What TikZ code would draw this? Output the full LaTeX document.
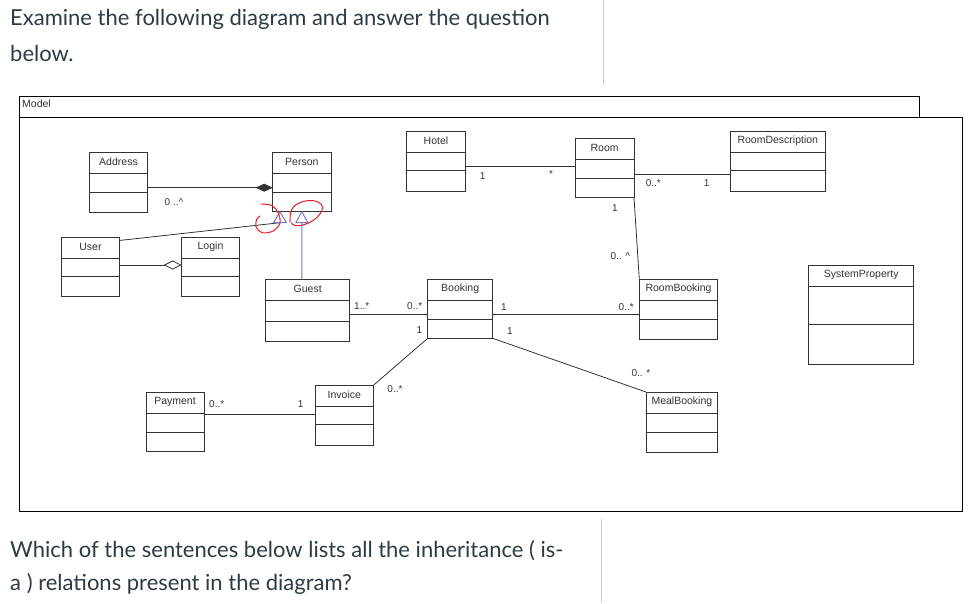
\documentclass[tikz,border=0pt]{standalone}
\usepackage{fontspec}
\setmainfont{Liberation Sans}
\newfontfamily\latofont{Lato}
\usetikzlibrary{arrows.meta}
\definecolor{qtext}{HTML}{2D3B45}
\definecolor{ink}{HTML}{333333}
\definecolor{inh}{RGB}{120,120,200}
\definecolor{sepgray}{HTML}{C7CDD1}
\definecolor{pen}{RGB}{230,30,40}
\newcommand\umlclass[8]{%
  \node[classbox, anchor=north west, minimum width={(#4-#2)*1pt}, minimum height={(#5-#3)*1pt}] (#1) at (#2,#3) {};
  \draw[divider] (#2,#6) -- (#4,#6) (#2,#7) -- (#4,#7);
  \node[cname] (#1-name) at ({(#2+#4)/2},{(#3+#6)/2-1}) {#8};
}
\begin{document}
\begin{tikzpicture}[x=1pt,y=-1pt,
  classbox/.style={draw=ink, line width=0.9pt, inner sep=0pt, outer sep=0pt, fill=white},
  divider/.style={draw=ink, line width=0.9pt},
  cname/.style={font=\fontsize{10.5}{12}\selectfont, text=ink, inner sep=0pt},
  mult/.style={font=\fontsize{10}{12}\selectfont, text=ink, inner sep=0pt},
  conn/.style={draw=ink, line width=0.8pt},
  inhline/.style={draw=inh, line width=1pt},
  redpen/.style={draw=pen, line width=1pt, line cap=round, line join=round},
  qline/.style={font=\latofont\fontsize{22}{26}\selectfont, text=qtext, anchor=west, inner sep=0pt},
  frameline/.style={draw=black, line width=0.9pt},
  sepline/.style={draw=sepgray, line width=0.8pt},
]
\useasboundingbox (0,0) rectangle (975,603);
\fill[white] (0,0) rectangle (975,603);

% question text
\node[qline] (q1) at (10,19) {Examine the following diagram and answer the question};
\node[qline] (q2) at (10,53) {below.};
\node[qline] (q3) at (10,551) {Which of the sentences below lists all the inheritance ( is-};
\node[qline] (q4) at (10,584) {a ) relations present in the diagram?};
\draw[sepline] (603,0) -- (603,85);
\draw[sepline] (601,519) -- (601,603);

% frame
\draw[frameline] (19,96) rectangle (919,117);
\draw[frameline] (19,117) rectangle (962,511);
\node[cname, anchor=west] (model) at (22,103.5) {Model};

% classes
\umlclass{Address}{89.3}{152.3}{147.7}{212.3}{173.3}{192.3}{Address}
\umlclass{Person}{272.7}{152.3}{331}{211.7}{173.3}{192.3}{Person}
\umlclass{User}{61.7}{237}{119.3}{296.7}{258.3}{276.7}{User}
\umlclass{Login}{181.7}{237}{239.3}{296.7}{258.3}{276.7}{Login}
\umlclass{Guest}{265.7}{279.3}{349.7}{341.7}{300.3}{321}{Guest}
\umlclass{Booking}{427.7}{279.3}{492.7}{338.3}{300.3}{319.3}{Booking}
\umlclass{Hotel}{406.7}{131.3}{465.3}{191}{152.3}{170.7}{Hotel}
\umlclass{Room}{575.3}{138.7}{634}{197.7}{159.7}{178.3}{Room}
\umlclass{RoomDescription}{730.3}{131.3}{825.3}{191}{152.3}{170.7}{RoomDescription}
\umlclass{RoomBooking}{639.3}{279.3}{717.7}{339.3}{300.7}{319.3}{RoomBooking}
\umlclass{SystemProperty}{808.7}{265.3}{913.7}{364}{286.7}{324.3}{SystemProperty}
\umlclass{MealBooking}{646}{392}{717.7}{452.3}{413.7}{432.3}{MealBooking}
\umlclass{Payment}{146}{392}{204}{451.7}{413.3}{432}{Payment}
\umlclass{Invoice}{315}{385}{373.7}{445}{406}{424.3}{Invoice}

% connector levels
\coordinate (yAP) at (0,187.7);
\coordinate (yUL) at (0,265);
\coordinate (yHR) at (0,166.7);
\coordinate (yRD) at (0,174);
\coordinate (yGB) at (0,314.3);
\coordinate (yPI) at (0,414);

% composition Address - Person
\draw[conn, -{Diamond[length=17pt,width=8pt]}] (Address.east |- yAP) -- (Person.west |- yAP);
\node[mult] (mAP) at (174,202) {0 ..\^{}};

% aggregation User - Login
\draw[conn, -{Diamond[open,length=18pt,width=9pt,fill=white]}] (User.east |- yUL) -- (Login.west |- yUL);

% inheritance
\coordinate (tL) at (280,211.7);
\coordinate (tLb) at (280,222.7);
\coordinate (tRb) at (301.85,222.7);
\draw[conn] ([yshift=-3.5pt]User.north east) -- (tLb);
\draw[inhline, fill=white] (tL) -- ++(-6.5,11) -- ++(13,0) -- cycle;
\draw[inhline] (Person.south |- Guest.north) -- (tRb);
\draw[inhline, fill=white] (Person.south) -- ++(-6,11) -- ++(12,0) -- cycle;

% red hand marks
\draw[redpen] plot[smooth, tension=0.6] coordinates {(261,204) (271.7,205.5) (278,212.5) (280,223) (273,231) (262,232.7) (256,226.7) (256.7,219.3) (260,216)};
\draw[redpen] plot[smooth, tension=0.6] coordinates {(290,222) (290.7,212) (295,205.5) (303,201.5) (312,200.5) (319,202.5) (322.5,207) (320,214) (313,220.5) (303,225) (295,225.5) (291.5,223)};

% Hotel - Room
\draw[conn] (Hotel.east |- yHR) -- (Room.west |- yHR);
\node[mult] (mHR1) at (482.7,175.7) {1};
\node[mult] (mHR2) at (551,174) {*};

% Room - RoomDescription
\draw[conn] (Room.east |- yRD) -- (RoomDescription.west |- yRD);
\node[mult] (mRD1) at (653.3,182.7) {0..*};
\node[mult] (mRD2) at (706.7,182.7) {1};

% Room - RoomBooking
\draw[conn] (Room.south east) -- (RoomBooking.north west);
\node[mult] (mRR1) at (615,208.3) {1};
\node[mult] (mRR2) at (620.3,255.7) {0.. \^{}};

% Guest - Booking
\draw[conn] (Guest.east |- yGB) -- (Booking.west |- yGB);
\node[mult] (mGB1) at (361.7,306) {1..*};
\node[mult] (mGB2) at (414.7,306) {0..*};

% Booking - RoomBooking
\draw[conn] (Booking.east |- yGB) -- (RoomBooking.west |- yGB);
\node[mult] (mBR1) at (504,306.7) {1};
\node[mult] (mBR2) at (626.2,306.7) {0..*};

% Booking - Invoice
\draw[conn] (Booking.south west) -- (Invoice.north east);
\node[mult] (mBI1) at (419.3,330) {1};
\node[mult] (mBI2) at (395,389) {0..*};

% Booking - MealBooking
\draw[conn] (Booking.south east) -- (MealBooking.north west);
\node[mult] (mBM1) at (510,331) {1};
\node[mult] (mBM2) at (641,372.7) {0.. *};

% Payment - Invoice
\draw[conn] (Payment.east |- yPI) -- (Invoice.west |- yPI);
\node[mult] (mPI1) at (216.7,404.3) {0..*};
\node[mult] (mPI2) at (300.7,404.3) {1};
\end{tikzpicture}
\end{document}
